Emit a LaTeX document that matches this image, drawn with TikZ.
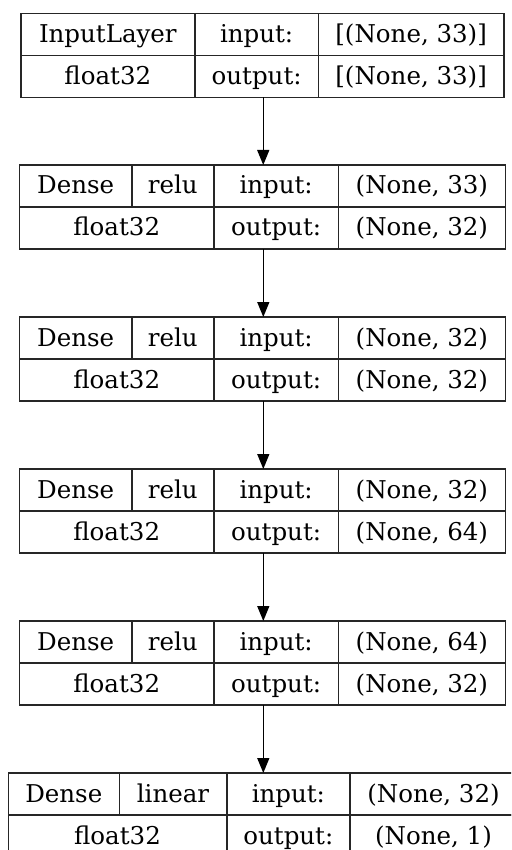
\documentclass[tikz,border=0pt]{standalone}
\usepackage{fontspec}
\setmainfont{DejaVu Serif}
\usetikzlibrary{arrows.meta,fit}
\tikzset{
  cell/.style={draw=black!85, line width=1.6pt, inner sep=0pt, outer sep=0pt,
    text height=18pt, text depth=2pt, anchor=north west,
    font=\fontsize{24.5}{29}\selectfont},
  layerbox/.style={inner sep=0pt, outer sep=0pt},
  arr/.style={line width=1.4pt, -{Triangle[length=15pt,width=12pt]}}
}
% name, x1, x2, ytop, text
\newcommand\cellnode[5]{%
  \node[cell, minimum width={#3pt-#2pt}, minimum height=42pt] (#1) at (#2,#4) {#5};}
% prefix, top, activation, input shape, output shape
\newcommand\denselayer[5]{%
  \cellnode{#1a}{19.5}{131.7}{#2}{Dense}
  \cellnode{#1b}{131.7}{214}{#2}{#3}
  \cellnode{#1c}{214}{338.3}{#2}{input:}
  \cellnode{#1d}{338.3}{505.5}{#2}{#4}
  \cellnode{#1e}{19.5}{214}{#2+42}{float32}
  \cellnode{#1f}{214}{338.3}{#2+42}{output:}
  \cellnode{#1g}{338.3}{505.5}{#2+42}{#5}
  \node[layerbox, fit=(#1a)(#1d)(#1e)(#1g)] (#1) {};}
\begin{document}
\begin{tikzpicture}[x=1pt,y=-1pt]
\useasboundingbox (0,0) rectangle (511,850);
\clip (0,0) rectangle (511,850);
\fill[white] (0,0) rectangle (511,850);
% layer 1
\cellnode{Ia}{20.7}{195}{13.5}{InputLayer}
\cellnode{Ib}{195}{318.3}{13.5}{input:}
\cellnode{Ic}{318.3}{504}{13.5}{[(None, 33)]}
\cellnode{Id}{20.7}{195}{55.5}{float32}
\cellnode{Ie}{195}{318.3}{55.5}{output:}
\cellnode{If}{318.3}{504}{55.5}{[(None, 33)]}
\node[layerbox, fit=(Ia)(Ic)(Id)(If)] (L1) {};
% dense layers
\denselayer{B}{165}{relu}{(None, 33)}{(None, 32)}
\denselayer{C}{317}{relu}{(None, 32)}{(None, 32)}
\denselayer{D}{469}{relu}{(None, 32)}{(None, 64)}
\denselayer{E}{621}{relu}{(None, 64)}{(None, 32)}
% last layer
\cellnode{Fa}{8.3}{119.3}{773}{Dense}
\cellnode{Fb}{119.3}{226.7}{773}{linear}
\cellnode{Fc}{226.7}{350}{773}{input:}
\cellnode{Fd}{350}{517}{773}{(None, 32)}
\cellnode{Fe}{8.3}{226.7}{815}{float32}
\cellnode{Ff}{226.7}{350}{815}{output:}
\cellnode{Fg}{350}{517}{815}{(None, 1)}
\node[layerbox, fit=(Fa)(Fd)(Fe)(Fg)] (F) {};
% connectors
\draw[arr] ([xshift=0.9pt]L1.south) -- ([xshift=0.9pt]L1.south |- B.north);
\draw[arr] ([xshift=0.8pt]B.south) -- ([xshift=0.8pt]B.south |- C.north);
\draw[arr] ([xshift=0.8pt]C.south) -- ([xshift=0.8pt]C.south |- D.north);
\draw[arr] ([xshift=0.8pt]D.south) -- ([xshift=0.8pt]D.south |- E.north);
\draw[arr] ([xshift=0.8pt]E.south) -- ([xshift=0.8pt]E.south |- F.north);
\end{tikzpicture}
\end{document}
